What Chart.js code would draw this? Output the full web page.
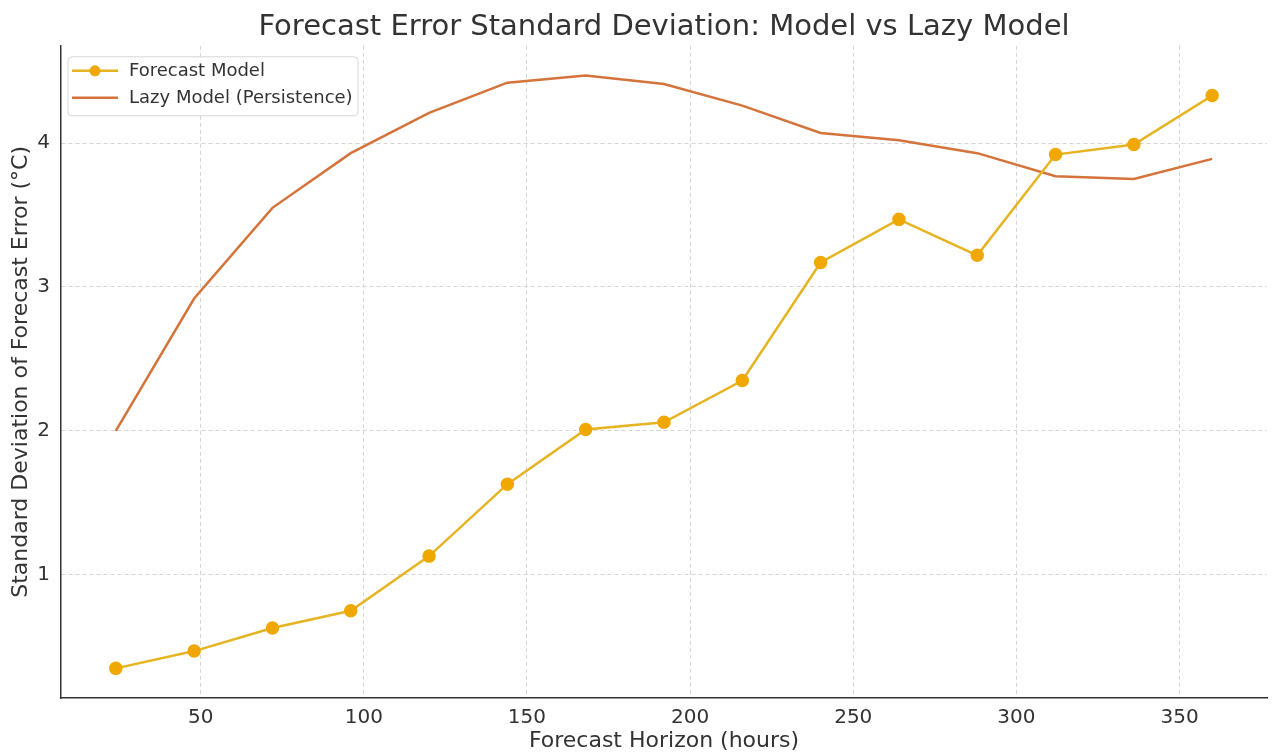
<!DOCTYPE html>
<html lang="en">
<head>
    <meta charset="UTF-8">
    <title>Forecast Error Standard Deviation</title>
    <script src="https://cdn.jsdelivr.net/npm/chart.js"></script>
    <style>
        body { margin: 0; padding: 0; background: #fff; }
        #wrap { width: 1275px; height: 754px; }
    </style>
</head>
<body>
    <div id="wrap"><canvas id="myChart" width="1275" height="754"></canvas></div>

    <script>
        // forecast horizons (hours)
        const horizons = [24, 48, 72, 96, 120, 144, 168, 192, 216, 240, 264, 288, 312, 336, 360];
        // std dev of forecast error (°C)
        const modelStd = [0.35, 0.47, 0.63, 0.75, 1.13, 1.63, 2.01, 2.06, 2.35, 3.17, 3.47, 3.22, 3.92, 3.99, 4.33];
        const lazyStd = [2.0, 2.92, 3.55, 3.93, 4.21, 4.42, 4.47, 4.41, 4.26, 4.07, 4.02, 3.93, 3.77, 3.75, 3.89];
        const xTicks = [50, 100, 150, 200, 250, 300, 350];
        const yTicks = [1, 2, 3, 4];

        const FONT = "'DejaVu Sans', sans-serif";

        // legend drawn inside the plot, upper left
        const boxLegend = {
            id: 'boxLegend',
            afterDatasetsDraw(chart) {
                const ctx = chart.ctx;
                const a = chart.chartArea;
                const x = a.left + 7, y = a.top + 11, w = 290, h = 59;
                ctx.save();
                ctx.fillStyle = 'rgba(255,255,255,0.85)';
                ctx.strokeStyle = '#d6d6d6';
                ctx.lineWidth = 1;
                ctx.beginPath();
                ctx.roundRect(x, y, w, h, 4);
                ctx.fill();
                ctx.stroke();
                ctx.font = '18px ' + FONT;
                ctx.textBaseline = 'middle';
                chart.data.datasets.forEach((ds, i) => {
                    const ly = y + 14 + i * 27;
                    ctx.strokeStyle = ds.borderColor;
                    ctx.lineWidth = 2.5;
                    ctx.beginPath();
                    ctx.moveTo(x + 4, ly);
                    ctx.lineTo(x + 50, ly);
                    ctx.stroke();
                    if (ds.pointRadius > 0) {
                        ctx.fillStyle = ds.pointBackgroundColor;
                        ctx.beginPath();
                        ctx.arc(x + 27, ly, ds.pointRadius, 0, Math.PI * 2);
                        ctx.fill();
                    }
                    ctx.fillStyle = '#333';
                    ctx.fillText(ds.label, x + 61, ly + 1);
                });
                ctx.restore();
            }
        };

        const gridOpts = { color: '#d4d4d4', drawTicks: false, lineWidth: 1 };
        const borderOpts = { color: '#333', width: 1.5, dash: [4, 3] };

        const ctx = document.getElementById('myChart').getContext('2d');
        const myChart = new Chart(ctx, {
            type: 'line',
            data: {
                datasets: [{
                    label: 'Forecast Model',
                    data: horizons.map((h, i) => ({ x: h, y: modelStd[i] })),
                    borderColor: '#e6b422',
                    pointBackgroundColor: '#f0a800',
                    pointBorderColor: '#f0a800',
                    pointRadius: 5.5,
                    borderWidth: 2.5,
                    tension: 0,
                    fill: false
                }, {
                    label: 'Lazy Model (Persistence)',
                    data: horizons.map((h, i) => ({ x: h, y: lazyStd[i] })),
                    borderColor: '#d4733a',
                    pointRadius: 0,
                    borderWidth: 2.5,
                    tension: 0,
                    fill: false
                }]
            },
            options: {
                responsive: false,
                animation: false,
                layout: { padding: { left: 0, right: 3, top: 0, bottom: 0 } },
                plugins: {
                    legend: { display: false },
                    tooltip: { enabled: false },
                    title: {
                        display: true,
                        fullSize: false,
                        text: 'Forecast Error Standard Deviation: Model vs Lazy Model',
                        color: '#333',
                        font: { family: FONT, size: 29, weight: 'normal' },
                        padding: { top: 10, bottom: 1 }
                    }
                },
                scales: {
                    x: {
                        type: 'linear',
                        min: 7.2,
                        max: 376.8,
                        afterFit: s => { s.height = 56; },
                        afterBuildTicks: s => { s.ticks = xTicks.map(v => ({ value: v })); },
                        ticks: { color: '#333', font: { family: FONT, size: 20 }, padding: 8, includeBounds: false },
                        grid: gridOpts,
                        border: borderOpts,
                        title: {
                            display: true,
                            text: 'Forecast Horizon (hours)',
                            color: '#333',
                            font: { family: FONT, size: 22 },
                            padding: { top: 0, bottom: 0 }
                        }
                    },
                    y: {
                        type: 'linear',
                        min: 0.144,
                        max: 4.676,
                        afterFit: s => { s.width = 61; },
                        afterBuildTicks: s => { s.ticks = yTicks.map(v => ({ value: v })); },
                        ticks: { color: '#333', font: { family: FONT, size: 20 }, padding: 11, includeBounds: false },
                        grid: gridOpts,
                        border: borderOpts,
                        title: {
                            display: true,
                            text: 'Standard Deviation of Forecast Error (°C)',
                            color: '#333',
                            font: { family: FONT, size: 22 },
                            padding: { top: 8, bottom: 0 }
                        }
                    }
                }
            },
            plugins: [boxLegend]
        });
    </script>
</body>
</html>
